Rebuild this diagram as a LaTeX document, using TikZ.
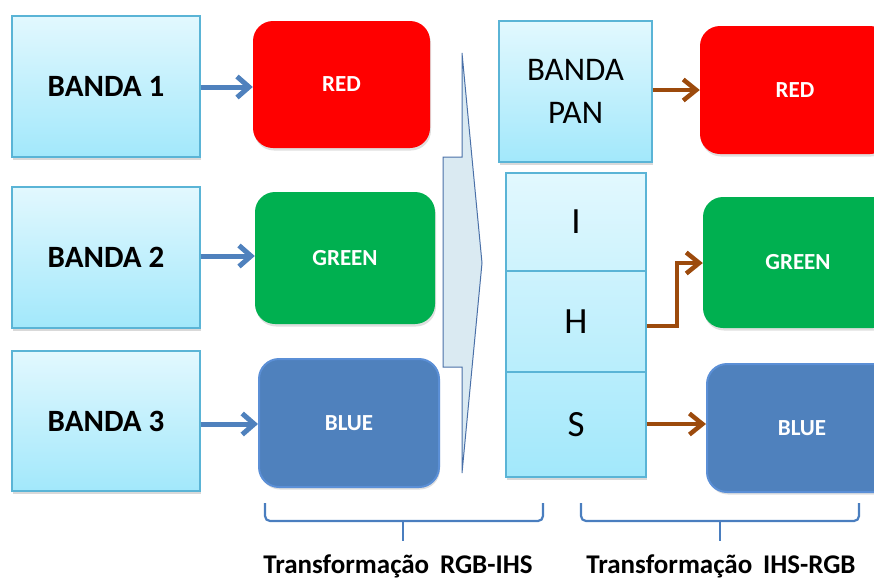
\documentclass[tikz,border=0pt]{standalone}
\usepackage{fontspec}
\setmainfont{Carlito}
\usetikzlibrary{arrows.meta,shadows}
\definecolor{bandtop}{HTML}{E2F8FE}
\definecolor{bandbot}{HTML}{A2E8FB}
\definecolor{bandline}{HTML}{5AB4D6}
\definecolor{myred}{HTML}{FF0000}
\definecolor{mygreen}{HTML}{00B050}
\definecolor{myblue}{HTML}{4F81BD}
\definecolor{blueline}{HTML}{5B8FD6}
\definecolor{mybrown}{HTML}{9C4A0C}
\definecolor{arrowfill}{HTML}{DAEAF2}
\definecolor{arrowline}{HTML}{4A70A8}
\definecolor{bracecol}{HTML}{4A7EBF}
\begin{document}
\begin{tikzpicture}[x=1pt,y=-1pt,
  band/.style={draw=bandline, line width=1.3pt, top color=bandtop, bottom color=bandbot,
    drop shadow={opacity=0.3,shadow xshift=1pt,shadow yshift=-2.5pt},
    inner sep=0pt, font=\fontsize{31}{36}\selectfont\bfseries},
  colbox/.style={rounded corners=20pt, inner sep=0pt,
    drop shadow={opacity=0.25,shadow xshift=1pt,shadow yshift=-2.5pt},
    text=white, font=\fontsize{23}{26}\selectfont\bfseries},
  ihs/.style={draw=bandline, line width=1.1pt, inner sep=0pt, font=\fontsize{37}{40}\selectfont},
  barrow/.style={draw=myblue, line width=5pt, -{Straight Barb[length=12pt,width=21pt,line width=5pt]}},
  brarrow/.style={draw=mybrown, line width=4.5pt, -{Straight Barb[length=13pt,width=21pt,line width=4.5pt]}},
  bracepath/.style={draw=bracecol, line width=2.2pt, rounded corners=5pt},
  lab/.style={font=\fontsize{27}{30}\selectfont\bfseries, inner sep=0pt, anchor=base}
]
\useasboundingbox (0,0) rectangle (874,579);

% left column
\node[band, minimum width=188pt, minimum height=141pt] (b1) at (106,86.5) {BANDA 1};
\node[band, minimum width=188pt, minimum height=141pt] (b2) at (106,257.5) {BANDA 2};
\node[band, minimum width=188pt, minimum height=140pt] (b3) at (106,421) {BANDA 3};

% colour boxes left
\node[colbox, fill=myred, minimum width=177pt, minimum height=127pt] (r1) at (341.5,84.5) {RED};
\node[colbox, fill=mygreen, minimum width=180pt, minimum height=132pt] (g1) at (345,258) {GREEN};
\node[colbox, fill=myblue, draw=blueline, line width=2pt, minimum width=180pt, minimum height=128pt] (bl1) at (349,423) {BLUE};

\draw[barrow] (b1.east |- 0,87) -- (r1.west |- 0,87);
\draw[barrow] (b2.east |- 0,256) -- (g1.west |- 0,256);
\draw[barrow] (b3.east |- 0,424) -- (bl1.west |- 0,424);

% big arrow
\draw[fill=arrowfill, draw=arrowline, line width=1pt]
  (443,157) -- (462,157) -- (462,53) -- (482,263) -- (462,473) -- (462,367) -- (443,367) -- cycle;

% BANDA PAN and IHS column
\node[band, minimum width=153pt, minimum height=141pt, font=\fontsize{33}{43}\selectfont, align=center] (pan) at (575.5,91.5) {BANDA\\PAN};
\node[band, minimum width=140pt, minimum height=304pt] (ihsbox) at (576,325.5) {};
\node[ihs, minimum width=140pt, minimum height=98pt] (I) at (576,222) {I};
\node[ihs, minimum width=140pt, minimum height=101pt] (H) at (576,321.5) {H};
\node[ihs, minimum width=140pt, minimum height=105pt] (S) at (576,424.5) {S};

% colour boxes right
\node[colbox, fill=myred, minimum width=190pt, minimum height=128pt] (r2) at (795,90) {RED};
\node[colbox, fill=mygreen, minimum width=190pt, minimum height=131pt] (g2) at (798,262.5) {GREEN};
\node[colbox, fill=myblue, draw=blueline, line width=2pt, minimum width=190pt, minimum height=128pt] (bl2) at (802,428) {BLUE};

\draw[brarrow] (pan.east |- 0,90) -- (r2.west |- 0,90);
\draw[brarrow] (H.east |- 0,326) -| (677,263) -- (g2.west |- 0,263);
\draw[brarrow] (S.east |- 0,424) -- (bl2.west |- 0,424);

% braces
\draw[bracepath] (265,503) -- (265,521) -- (543,521) -- (543,503);
\draw[bracepath] (403,521) -- (403,541);
\draw[bracepath] (581,503) -- (581,521) -- (859,521) -- (859,503);
\draw[bracepath] (720,521) -- (720,541);

\node[lab] (t1) at (398,573) {Transformação\hspace{0.4em}RGB-IHS};
\node[lab] (t2) at (721,573) {Transformação\hspace{0.4em}IHS-RGB};
\end{tikzpicture}
\end{document}
